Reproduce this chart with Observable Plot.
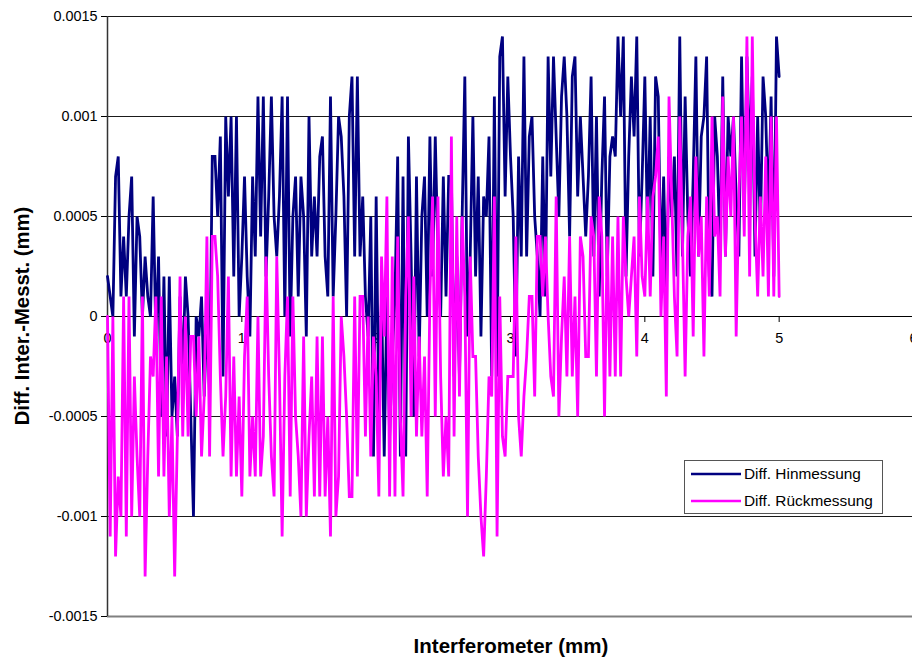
<!DOCTYPE html>
<html>
<head>
<meta charset="utf-8">
<script src="https://cdn.jsdelivr.net/npm/d3@7"></script>
<script src="https://cdn.jsdelivr.net/npm/@observablehq/plot@0.6"></script>
<style>
  html, body { margin: 0; padding: 0; background: #fff; }
  #chart { width: 912px; height: 661px; overflow: hidden; }
</style>
</head>
<body>
<div id="chart"></div>
<script>
// Sample spacing along the interferometer axis (mm)
const STEP = 0.02;
// Values in units of 0.0001 mm
const hinmessung = [
  2,1,0,7,8,1,4,1,5,7,-1,5,4,0,3,1,0,6,-1,3,-5,2,-6,2,-5,
  -3,-6,1,-3,2,0,-5,-10,0,-1,1,-4,0,-4,8,8,5,9,-3,10,6,10,2,10,0,
  3,7,2,-1,7,3,11,4,11,2,6,11,5,3,6,11,0,11,-1,5,7,1,7,5,-1,
  10,3,6,3,8,9,3,1,11,1,5,10,9,6,0,10,12,3,12,3,6,1,-1,5,-7,
  6,-5,1,-7,1,-6,-2,1,8,-7,7,-7,9,3,-5,7,-2,5,7,0,9,2,9,3,0,
  7,1,7,7,-3,3,-3,5,12,-1,3,10,2,7,-1,6,5,9,-3,11,-3,13,14,6,12,
  8,5,-2,8,3,13,3,9,10,5,3,0,8,1,13,7,13,9,5,11,13,10,4,12,13,
  6,10,7,4,7,12,3,10,1,7,11,2,8,9,8,14,10,14,2,8,12,9,14,3,7,
  12,4,10,2,12,11,2,7,1,8,5,8,2,14,3,11,5,2,7,13,3,9,10,13,2,
  1,10,8,3,12,3,10,8,10,6,3,13,5,13,8,12,3,10,4,12,10,5,11,2,14,12
];
const rueckmessung = [
  0,-11,0,-12,-8,-10,1,-11,1,-10,-3,-7,-10,1,-13,-7,-2,-3,1,-8,1,-8,-2,-10,-5,
  -13,-6,2,-6,0,-6,-1,-1,-5,-1,-7,-4,4,-7,4,4,2,-3,-7,-4,2,-8,-2,-8,-4,
  -9,-2,1,-8,-5,-8,0,-8,-6,3,-3,-7,-9,3,-3,-11,-3,1,-9,1,-5,-7,-10,-1,-10,
  -6,-3,-9,-1,-9,-1,-9,-5,-11,1,-10,-8,0,-2,-5,-9,-9,1,-8,1,1,-6,0,-7,-1,
  -3,-9,3,-1,6,-9,3,-9,4,-5,-9,1,5,-5,2,-6,-1,-6,-2,-9,1,6,-5,6,-3,
  -8,-5,-8,9,-6,5,-4,5,1,-10,3,-2,-2,-7,-10,-12,-8,-3,-4,6,-11,1,-6,-7,-3,
  -3,-3,4,-5,-7,-4,-2,1,1,-4,4,4,1,4,0,-3,-4,6,-5,-1,2,-3,4,-3,1,
  -5,4,3,-2,-2,5,4,-3,6,4,-5,4,-3,4,-3,5,-3,5,2,0,2,4,-2,6,2,
  1,6,1,6,7,9,0,4,-4,11,6,1,-2,10,4,-3,4,6,-1,8,3,5,-2,6,1,
  10,4,5,1,11,3,8,5,10,-1,6,10,4,14,2,14,5,1,6,2,8,1,10,1,10,1
];
const seriesNames = ["Diff. Hinmessung", "Diff. Rückmessung"];
const seriesColors = ["#000080", "#FF00FF"];
const xTicks = [0, 1, 2, 3, 4, 5, 6];
const yTicks = [-0.0015, -0.001, -0.0005, 0, 0.0005, 0.001, 0.0015];
const xTitle = "Interferometer (mm)";
const yTitle = "Diff. Inter.-Messt. (mm)";

const toRows = (arr, name) => arr.map((v, i) => ({x: +(i * STEP).toFixed(3), y: v / 10000, s: name}));
const hinRows = toRows(hinmessung, seriesNames[0]);
const rueRows = toRows(rueckmessung, seriesNames[1]);

const FONT = "'Liberation Sans', Arial, Helvetica, sans-serif";

const plot = Plot.plot({
  width: 912,
  height: 661,
  marginLeft: 107,
  marginRight: 0,
  marginTop: 16,
  marginBottom: 45,
  style: {fontFamily: FONT, fontSize: "14.4px", background: "#fff", color: "#000", overflow: "visible"},
  x: {domain: [0, 6], range: [107, 913], axis: null},
  y: {domain: [-0.0015, 0.0015], range: [616, 16], axis: null},
  marks: [
    Plot.ruleY(yTicks.filter(d => d !== -0.0015), {y: d => d, x1: 0, x2: 6, stroke: "#000", strokeWidth: 0.9}),
    Plot.ruleY([-0.0015], {x1: 0, x2: 6, stroke: "#808080", strokeWidth: 2}),
    Plot.axisY({ticks: yTicks, tickFormat: d => String(d), tickSize: 6, tickPadding: 4, fontSize: 14.4, label: null, stroke: "#000"}),
    Plot.ruleX([0], {y1: -0.0015, y2: 0.0015, stroke: "#333", strokeWidth: 1.5}),
    Plot.ruleY([0], {x1: 0, x2: 6, stroke: "#000", strokeWidth: 1.2}),
    Plot.ruleX(xTicks, {x: d => d, y1: 0, y2: -0.00003, stroke: "#000", strokeWidth: 1}),
    Plot.text(xTicks, {x: d => d, y: 0, dy: 22, text: d => String(d), fontSize: 14.4, fill: "#000"}),
    Plot.line(hinRows, {x: "x", y: "y", stroke: seriesColors[0], strokeWidth: 2.8, strokeLinejoin: "miter", strokeMiterlimit: 3}),
    Plot.line(rueRows, {x: "x", y: "y", stroke: seriesColors[1], strokeWidth: 2.8, strokeLinejoin: "miter", strokeMiterlimit: 3})
  ]
});

document.getElementById("chart").appendChild(plot);

const svg = d3.select(plot);
// axis titles
svg.append("text")
  .attr("x", 511).attr("y", 653)
  .attr("text-anchor", "middle")
  .attr("font-family", FONT).attr("font-weight", "bold").attr("font-size", 20.5)
  .attr("fill", "#000")
  .text(xTitle);
svg.append("text")
  .attr("transform", "translate(29,316) rotate(-90)")
  .attr("text-anchor", "middle")
  .attr("font-family", FONT).attr("font-weight", "bold").attr("font-size", 20.3)
  .attr("fill", "#000")
  .text(yTitle);

// legend
const lg = svg.append("g");
lg.append("rect").attr("x", 684.5).attr("y", 460.5).attr("width", 198).attr("height", 53)
  .attr("fill", "#fff").attr("stroke", "#555").attr("stroke-width", 1);
seriesNames.forEach((name, i) => {
  const yy = 474 + i * 27;
  lg.append("line").attr("x1", 691).attr("x2", 741).attr("y1", yy).attr("y2", yy)
    .attr("stroke", seriesColors[i]).attr("stroke-width", 2.5);
  lg.append("text").attr("x", 744).attr("y", yy).attr("dy", "0.35em")
    .attr("text-anchor", "start")
    .attr("font-family", FONT).attr("font-size", 15.4).attr("fill", "#000").text(name);
});
</script>
</body>
</html>
